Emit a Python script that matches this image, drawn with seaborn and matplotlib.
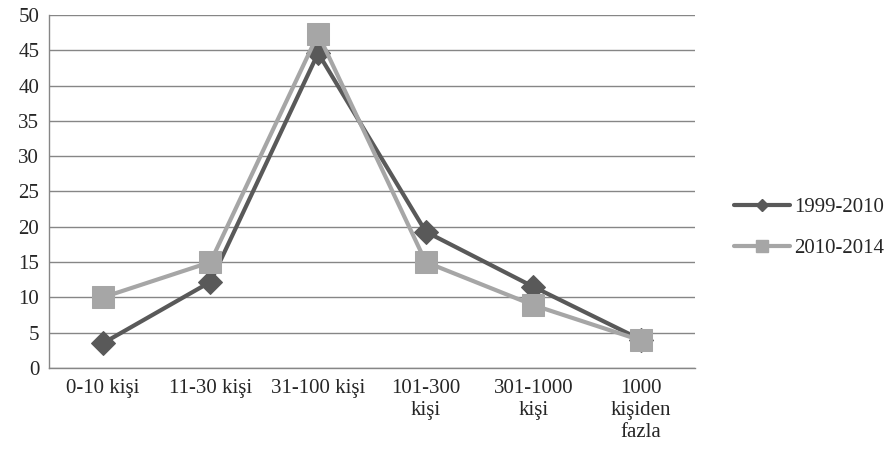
import pandas as pd
import numpy as np
import seaborn as sns
import matplotlib.pyplot as plt
from matplotlib.lines import Line2D

# VERİ
categories = ['0-10 kişi', '11-30 kişi', '31-100 kişi', '101-300\nkişi', '301-1000\nkişi', '1000\nkişiden\nfazla']
series_names = ['1999-2010', '2010-2014']
vals_1999 = [3.5, 12.2, 44.6, 19.3, 11.5, 4.0]
vals_2010 = [10.0, 15.0, 47.3, 15.0, 8.9, 3.9]

df = pd.DataFrame({
    'pos': list(range(len(categories))) * 2,
    'value': vals_1999 + vals_2010,
    'series': [series_names[0]] * len(categories) + [series_names[1]] * len(categories),
})

sns.set_style('white')
plt.rcParams['font.family'] = ['Liberation Serif', 'DejaVu Serif']

colors = {'1999-2010': '#595959', '2010-2014': '#a6a6a6'}
markers = {'1999-2010': 'D', '2010-2014': 's'}
sizes = {'1999-2010': 12, '2010-2014': 16}

fig = plt.figure(figsize=(8.87, 4.53), dpi=100)
ax = fig.add_axes([0.0552, 0.1876, 0.7283, 0.7794])

# çizgiler
for name in series_names:
    sub = df[df.series == name]
    sns.lineplot(data=sub, x='pos', y='value', ax=ax, color=colors[name],
                 marker=markers[name], markersize=sizes[name], linewidth=3,
                 markeredgecolor=colors[name], legend=False, zorder=3 if name == '2010-2014' else 2)

ax.set_xlim(-0.5, len(categories) - 0.5)
ax.set_ylim(0, 50)
ax.set_yticks(np.arange(0, 51, 5))
ax.set_xticks(range(len(categories)))
ax.set_xticklabels(categories, fontsize=15, linespacing=1.2)
ax.set_xticks(np.arange(-0.5, len(categories), 1), minor=True)
ax.tick_params(axis='x', which='major', length=0, pad=8)
ax.tick_params(axis='x', which='minor', length=6, color='#868686', direction='out')
ax.tick_params(axis='y', length=5, color='#868686', direction='out', labelsize=15, pad=2)
ax.set_xlabel('')
ax.set_ylabel('')
ax.yaxis.grid(True, color='#868686', linewidth=1)
ax.set_axisbelow(True)
for side in ['top', 'right']:
    ax.spines[side].set_visible(False)
for side in ['left', 'bottom']:
    ax.spines[side].set_color('#868686')
    ax.spines[side].set_linewidth(1)

handles = [Line2D([0], [0], color=colors[n], linewidth=3, marker=markers[n],
                  markersize=6 if n == '1999-2010' else 8) for n in series_names]
fig.legend(handles, series_names, loc='center left', bbox_to_anchor=(0.827, 0.497),
           frameon=False, fontsize=15, handlelength=2.7, handletextpad=0.2, labelspacing=1.0,
           borderaxespad=0, borderpad=0)

plt.savefig('out.png', dpi=100)
